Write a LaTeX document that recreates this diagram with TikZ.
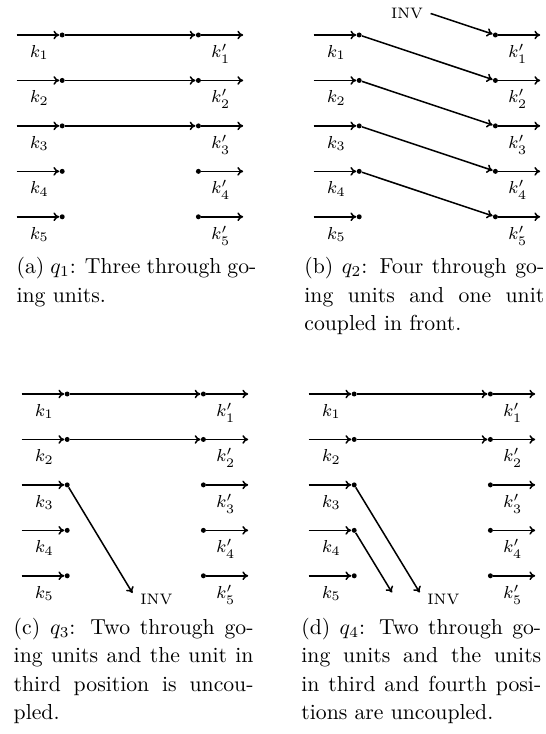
\documentclass[tikz,border=0pt]{standalone}
\usetikzlibrary{arrows.meta}
\tikzset{
  dot/.style={circle,fill,inner sep=0pt,minimum size=2.3pt},
  conn/.style={line width=0.7pt,-{To[length=2.7pt,width=4pt]}},
  klab/.style={font=\fontsize{8}{9.6}\selectfont,anchor=base,inner sep=0pt},
  invlab/.style={font=\fontsize{7}{8.4}\selectfont},
  captext/.style={anchor=base west,inner sep=0pt,font=\fontsize{10}{13.2}\selectfont},
}
\begin{document}
\begin{tikzpicture}[x=0.4608pt,y=-0.4608pt]
\useasboundingbox (0,0) rectangle (545,734);
% rows of units in every panel
\foreach \p/\xs/\yo in {a/16.7/35,b/313.7/35,c/21.7/394,d/308.7/394}{
  \foreach \i in {1,...,5}{
    \pgfmathsetmacro\yy{\yo+(\i-1)*45.45}
    \coordinate (\p-s\i) at (\xs,\yy);
    \node[dot] (\p-l\i) at (\xs+45.5,\yy) {};
    \node[dot] (\p-r\i) at (\xs+181.7,\yy) {};
    \coordinate (\p-e\i) at (\xs+226.5,\yy);
    \draw[conn] (\p-s\i) -- (\p-l\i);
    \draw[conn] (\p-r\i) -- (\p-e\i);
    \node[klab] (\p-k\i) at (\xs+22.75,\yy+22.5) {$k_{\i}$};
    \node[klab] (\p-kp\i) at (\xs+204.1,\yy+22.5) {$k'_{\i}$};
  }
}
% (a)
\foreach \i in {1,2,3}{\draw[conn] (a-l\i) -- (a-r\i);}
% (b)
\foreach \i/\j in {1/2,2/3,3/4,4/5}{\draw[conn] (b-l\i) -- (b-r\j);}
\node[invlab] (b-inv) at (407,13.5) {INV};
\draw[conn] (b-inv.east) -- (b-r1);
% (c)
\foreach \i in {1,2}{\draw[conn] (c-l\i) -- (c-r\i);}
\coordinate (c-t3) at (132.5,593);
\draw[conn] (c-l3) -- (c-t3);
\node[invlab,anchor=base west,inner sep=0pt] (c-inv) at (140,604) {INV};
% (d)
\foreach \i in {1,2}{\draw[conn] (d-l\i) -- (d-r\i);}
\coordinate (d-t3) at (419.7,592.5);
\coordinate (d-t4) at (392,592.5);
\draw[conn] (d-l3) -- (d-t3);
\draw[conn] (d-l4) -- (d-t4);
\node[invlab,anchor=base west,inner sep=0pt] (d-inv) at (427,604) {INV};
% captions
\node[captext] (a-cap) at (16.2,273.5) {\parbox[t]{110.5pt}{\makebox[\linewidth][s]{(a) $q_1$: Three through go-}\\ing units.}};
\node[captext] (b-cap) at (304,273.5) {\parbox[t]{110.5pt}{\makebox[\linewidth][s]{(b) $q_2$: Four through go-}\\\makebox[\linewidth][s]{ing units and one unit}\\coupled in front.}};
\node[captext] (c-cap) at (13.3,634) {\parbox[t]{110.5pt}{\makebox[\linewidth][s]{(c) $q_3$: Two through go-}\\\makebox[\linewidth][s]{ing units and the unit in}\\\makebox[\linewidth][s]{third position is uncou-}\\pled.}};
\node[captext] (d-cap) at (301,634) {\parbox[t]{110.5pt}{\makebox[\linewidth][s]{(d) $q_4$: Two through go-}\\\makebox[\linewidth][s]{ing units and the units}\\\makebox[\linewidth][s]{in third and fourth posi-}\\tions are uncoupled.}};
\end{tikzpicture}
\end{document}
